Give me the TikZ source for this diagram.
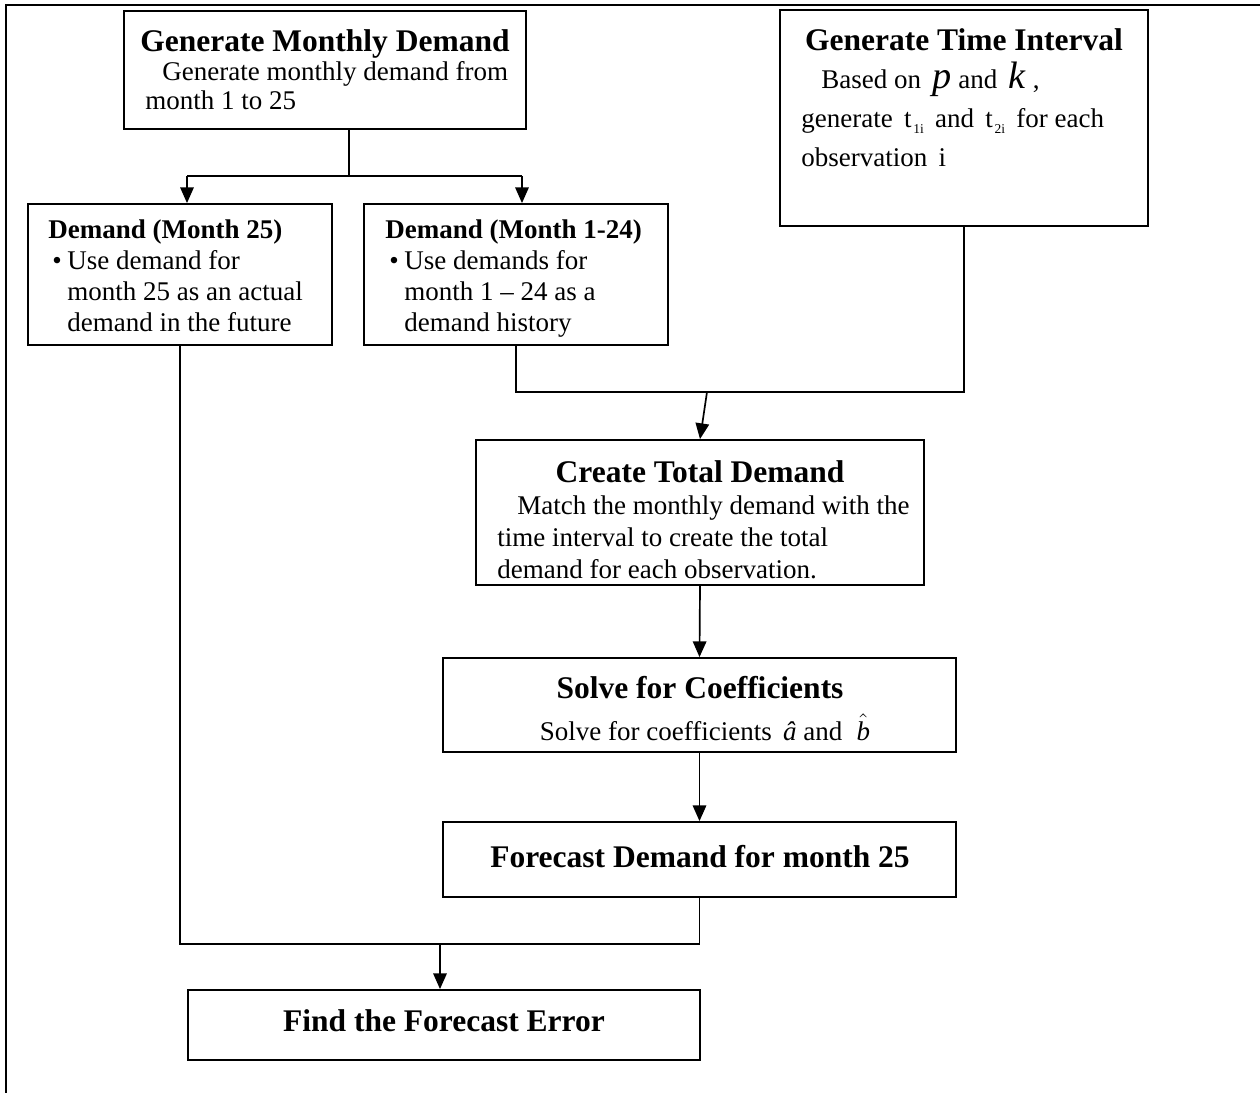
\documentclass[tikz,border=0pt]{standalone}
\usepackage{fontspec}
\setmainfont{Liberation Serif}
\usetikzlibrary{arrows.meta,fit,calc}
\newcommand\ttlfont{\fontsize{14pt}{16pt}\selectfont\bfseries}
\newcommand\bodyfont{\fontsize{12pt}{14pt}\selectfont}
\newcommand\mathbig[1]{{\fontsize{17pt}{17pt}\selectfont\itshape #1\/}}
\newcommand\subsm[1]{\kern0.8pt\raisebox{-2.5pt}{\fontsize{6pt}{6pt}\selectfont #1}}
\begin{document}
\begin{tikzpicture}[x=0.4444pt,y=-0.4444pt,
 box/.style={draw,line width=0.8pt,inner sep=0pt},
 ln/.style={line width=0.75pt},
 arr/.style={ln,-{Triangle[length=7pt,width=6pt]}},
 tl/.style={inner sep=0pt,anchor=base,font=\ttlfont},
 tx/.style={inner sep=0pt,anchor=base west,font=\bodyfont},
 bt/.style={inner sep=0pt,anchor=base west,font=\bodyfont\bfseries}]
\useasboundingbox (0,0) rectangle (1260,1093);
\draw[line width=1pt] (6,1093) -- (6,5) -- (1260,5);

% boxes
\node[box,fit={(124,11) (526,129)}] (gmd) {};
\node[box,fit={(28,204) (332,345)}] (d25) {};
\node[box,fit={(364,204) (668,345)}] (d124) {};
\node[box,fit={(780,10) (1148,226)}] (gti) {};
\node[box,fit={(476,440) (924,585)}] (ctd) {};
\node[box,fit={(443,658) (956,752)}] (sfc) {};
\node[box,fit={(443,822) (956,897)}] (fdm) {};
\node[box,fit={(188,990) (700,1060)}] (ffe) {};

% texts
\node[tl] (gmdT) at (325,52) {Generate Monthly Demand};
\node[tx] (gmdL1) at (162,81) {Generate monthly demand from};
\node[tx] (gmdL2) at (145,110) {month 1 to 25};

\node[bt] (d25T) at (48,238) {Demand (Month 25)};
\node[tx] (d25L1) at (67,270) {\llap{\textbullet\hspace{2.5pt}}Use demand for};
\node[tx] (d25L2) at (67,301) {month 25 as an actual};
\node[tx] (d25L3) at (67,332) {demand in the future};

\node[bt] (d124T) at (385,238) {Demand (Month 1-24)};
\node[tx] (d124L1) at (404,270) {\llap{\textbullet\hspace{2.5pt}}Use demands for};
\node[tx] (d124L2) at (404,301) {month 1 -- 24 as a};
\node[tx] (d124L3) at (404,332) {demand history};

\node[tl] (gtiT) at (964,51) {Generate Time Interval};
\node[tx] (gtiL1) at (821,89) {Based on \,\mathbig{p} and \,\mathbig{k} ,};
\node[tx] (gtiL2) at (801,128) {generate \,t\subsm{1i}\, and \,t\subsm{2i}\, for each};
\node[tx] (gtiL3) at (801,167) {observation \,i};

\node[tl] (ctdT) at (700,482) {Create Total Demand};
\node[tx] (ctdL1) at (517,514) {Match the monthly demand with the};
\node[tx] (ctdL2) at (497,546) {time interval to create the total};
\node[tx] (ctdL3) at (497,578) {demand for each observation.};

\node[tl] (sfcT) at (700,698) {Solve for Coefficients};
\node[tx,anchor=base] (sfcL1) at (705,740) {Solve for coefficients \,\textit{â} and \;$\hat{\textit{b}}$};

\node[tl] (fdmT) at (700,867) {Forecast Demand for month 25};
\node[tl] (ffeT) at (444,1031) {Find the Forecast Error};

% connectors
\coordinate (j1) at (349,176);
\coordinate (a1) at (187,176);
\coordinate (a2) at (522,176);
\draw[ln] (gmd.south -| j1) -- (j1);
\draw[ln] (a1) -- (a2);
\draw[arr] (a1) -- (a1 |- d25.north);
\draw[arr] (a2) -- (a2 |- d124.north);

\coordinate (j3) at (964,392);
\coordinate (j4) at (707,392);
\draw[ln] (d124.south) |- (j3) -- (gti.south);
\draw[arr] (j4) -- (ctd.north);
\draw[arr] (ctd.south) -- (sfc.north);
\draw[arr] (sfc.south) -- (fdm.north);

\coordinate (j5) at (180,944);
\coordinate (j6) at (440,944);
\draw[ln] (fdm.south) |- (j5) -- (d25.south);
\draw[arr] (j6) -- (j6 |- ffe.north);
\end{tikzpicture}
\end{document}
